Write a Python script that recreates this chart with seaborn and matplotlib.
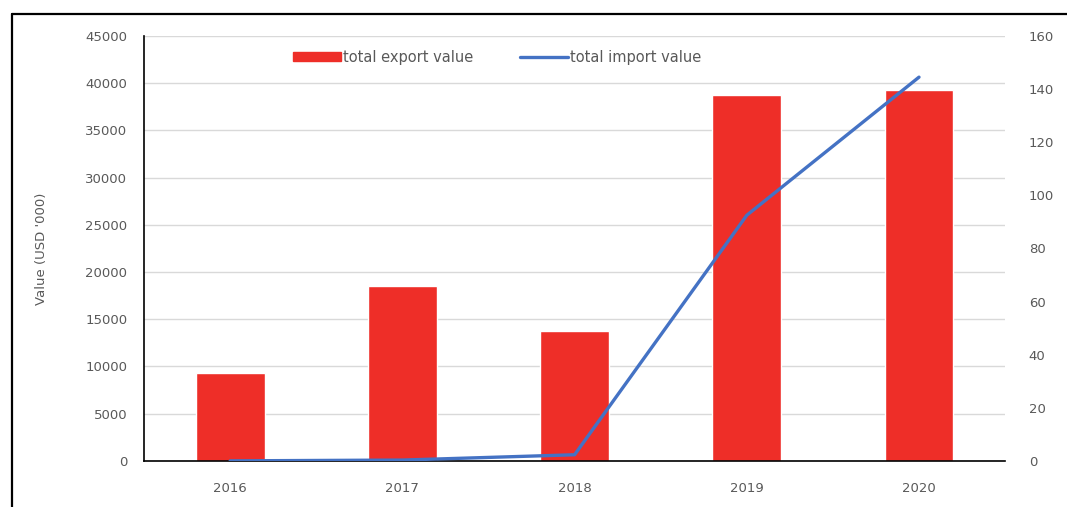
import matplotlib
matplotlib.use("Agg")
import seaborn as sns
import matplotlib.pyplot as plt
import pandas as pd
from matplotlib.lines import Line2D
from matplotlib.patches import Patch

years = ["2016", "2017", "2018", "2019", "2020"]
export_value = [9300, 18500, 13800, 38800, 39300]
import_value = [0, 0.3, 2.3, 92.5, 144.5]

df = pd.DataFrame({"year": years, "export": export_value, "import": import_value})

sns.set_style("white")
plt.rcParams["font.family"] = ["DejaVu Sans"]

red = "#EE2E28"
blue = "#4472C4"
grey = "#595959"

fig = plt.figure(figsize=(10.67, 5.07), dpi=100)
ax = fig.add_axes([0.135, 0.091, 0.807, 0.838])

sns.barplot(data=df, x="year", y="export", color=red, width=0.4, saturation=1, ax=ax)
ax.set_ylim(0, 45000)
ax.set_xlim(-0.5, 4.5)
ax.set_yticks(range(0, 45001, 5000))
ax.grid(axis="y", color="#d9d9d9", linewidth=1)
ax.set_axisbelow(True)
ax.set_xlabel("")
ax.set_ylabel("Value (USD '000)", color=grey, fontsize=9.5, labelpad=27)
ax.tick_params(axis="x", length=0, labelsize=9.5, colors=grey, pad=15)
ax.tick_params(axis="y", length=0, labelsize=9.5, colors=grey, pad=12)
for s in ["top", "right"]:
    ax.spines[s].set_visible(False)
ax.spines["left"].set_color("black")
ax.spines["bottom"].set_color("black")
ax.spines["left"].set_linewidth(1.2)
ax.spines["bottom"].set_linewidth(1.2)

ax2 = ax.twinx()
sns.lineplot(data=df, x="year", y="import", color=blue, linewidth=2.4, ax=ax2)
ax2.set_ylim(0, 160)
ax2.set_yticks(range(0, 161, 20))
ax2.set_ylabel("")
ax2.tick_params(axis="y", length=0, labelsize=9.5, colors=grey, pad=17)
for s in ["top", "right", "left", "bottom"]:
    ax2.spines[s].set_visible(False)
ax2.grid(False)

handles = [Patch(color=red), Line2D([], [], color=blue, linewidth=2.4)]
ax.legend(handles, ["total export value", "total import value"], loc="upper center",
          bbox_to_anchor=(0.41, 0.998), ncol=2, frameon=False, fontsize=10.5,
          handlelength=3.3, handleheight=0.55, handletextpad=0.15, columnspacing=3.2,
          labelcolor=grey)

# frame around the figure crop
fig.add_artist(Line2D([0.0112, 0.0112], [0, 0.972], color="black", linewidth=1.6))
fig.add_artist(Line2D([0.0112, 1.0], [0.972, 0.972], color="black", linewidth=1.6))

fig.savefig("out.png", dpi=100)
